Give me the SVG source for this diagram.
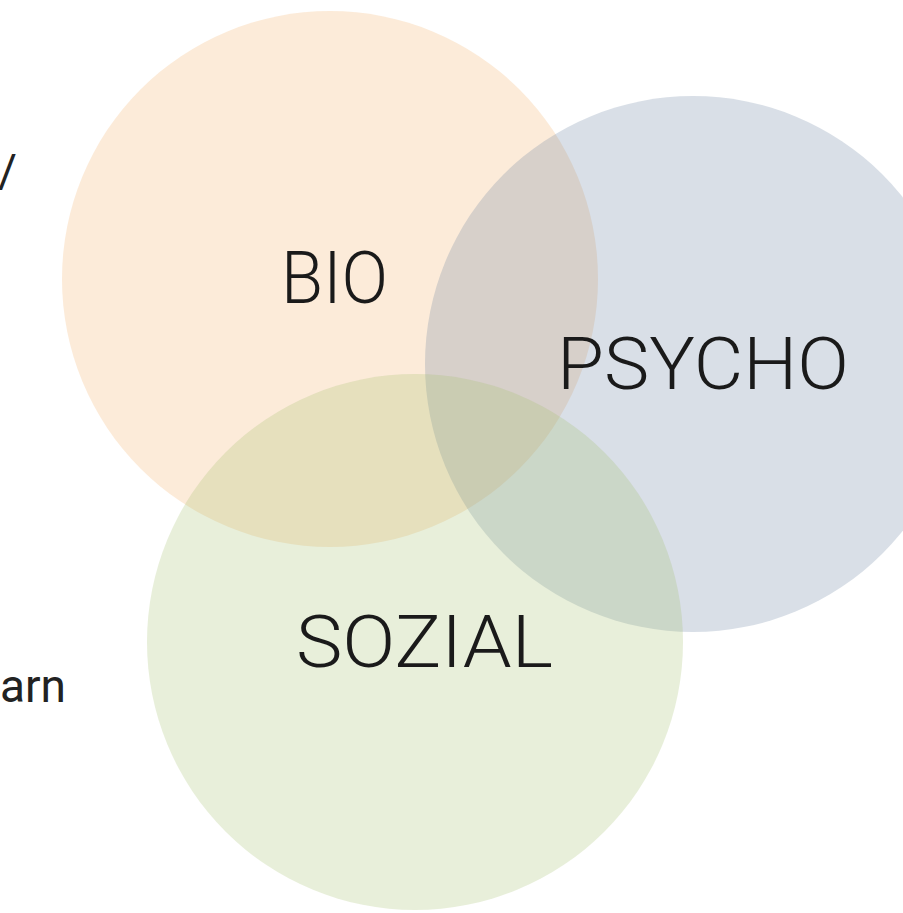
<svg xmlns="http://www.w3.org/2000/svg" width="903" height="913" viewBox="0 0 903 913">
<style>
.c{opacity:0.25}
.lbl{font-family:Roboto,"Liberation Sans",sans-serif;font-weight:300;font-size:72px;fill:#1a1a1a}
.side{font-family:Roboto,"Liberation Sans",sans-serif;font-weight:400;font-size:46px;fill:#222}
</style>
<rect width="903" height="913" fill="#ffffff"/>
<g id="bio"><circle class="c" cx="330" cy="279" r="268" fill="#F4AE66"/></g>
<g id="psycho"><circle class="c" cx="693" cy="364" r="268" fill="#677F9F"/></g>
<g id="sozial"><circle class="c" cx="415" cy="642" r="268" fill="#A3BF6B"/></g>
<g id="labels">
<text class="lbl" x="281" y="303" textLength="107" lengthAdjust="spacingAndGlyphs">BIO</text>
<text class="lbl" x="557" y="389" textLength="292" lengthAdjust="spacingAndGlyphs">PSYCHO</text>
<text class="lbl" x="296" y="667" textLength="257" lengthAdjust="spacingAndGlyphs">SOZIAL</text>
</g>
<g id="side-text">
<text class="side" x="17" y="187" text-anchor="end">/</text>
<text class="side" x="66" y="702" text-anchor="end">arn</text>
</g>
<g id="connectors"/>
</svg>
